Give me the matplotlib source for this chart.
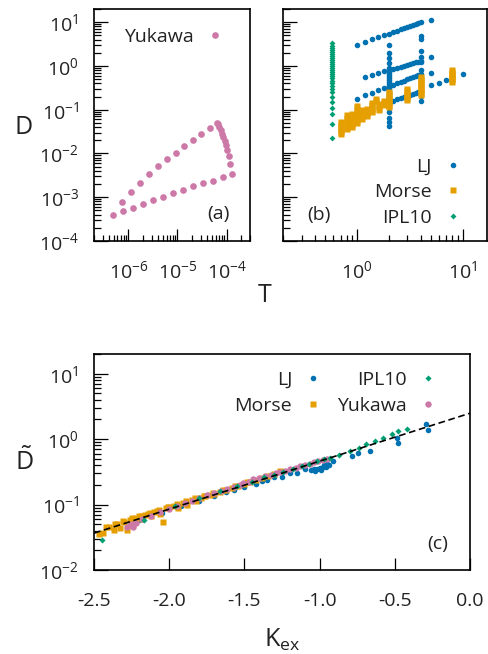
import numpy as np
import matplotlib
matplotlib.use('Agg')
import matplotlib.pyplot as plt
from matplotlib.ticker import LogLocator, NullFormatter, FixedLocator

# ---- panel (a): Yukawa, D vs T ----
yuk_T = [4.82e-7, 7.69e-7, 1.23e-6, 1.96e-6, 3.13e-6, 5.0e-6, 7.98e-6, 1.28e-5, 2.04e-5, 3.25e-5, 5.19e-5, 8.3e-5, 1.32e-4,
         7.35e-7, 1.12e-6, 1.73e-6, 2.67e-6, 4.07e-6, 6.12e-6, 9.18e-6, 1.37e-5, 2.04e-5, 3.0e-5, 4.51e-5, 6.35e-5,
         6.75e-5, 7.14e-5, 7.55e-5, 8.04e-5, 8.53e-5, 9.1e-5, 9.68e-5, 1.03e-4, 1.10e-4, 1.18e-4]
yuk_D = [3.92e-4, 4.84e-4, 5.77e-4, 7.13e-4, 8.53e-4, 1.02e-3, 1.24e-3, 1.47e-3, 1.79e-3, 2.10e-3, 2.41e-3, 2.88e-3, 3.38e-3,
         7.8e-4, 1.32e-3, 2.17e-3, 3.38e-3, 5.05e-3, 7.31e-3, 1.04e-2, 1.46e-2, 2.0e-2, 2.75e-2, 3.78e-2, 5.1e-2,
         4.83e-2, 4.12e-2, 3.52e-2, 2.85e-2, 2.37e-2, 1.92e-2, 1.55e-2, 1.20e-2, 8.57e-3, 5.61e-3]

# ---- panel (b): LJ, Morse, IPL10 ----
lj_T_iso1 = [1.0, 1.2, 1.4, 1.6, 1.8, 2.0, 2.2, 2.4, 2.6, 2.8, 3.0, 3.2, 3.4, 3.6, 3.8, 4.0, 5.0]
lj_D_iso1 = [3.0, 3.52, 4.03, 4.52, 5.01, 5.50, 5.97, 6.44, 6.90, 7.36, 7.82, 8.26, 8.71, 9.16, 9.6, 10.0, 11.5]
lj_T_iso2 = [1.2, 1.4, 1.6, 1.8, 2.0, 2.2, 2.4, 2.6, 2.8, 3.0, 3.2, 3.4, 3.6, 3.8, 4.0, 5.0]
lj_D_iso2 = [0.568, 0.632, 0.693, 0.752, 0.809, 0.865, 0.918, 0.970, 1.02, 1.07, 1.12, 1.17, 1.22, 1.26, 1.31, 1.57]
lj_T_iso3 = [1.0, 1.2, 1.4, 1.6, 1.8, 2.0, 2.2, 2.4, 2.6, 2.8, 3.0, 3.2, 3.4, 3.6, 3.8, 4.0, 5.0]
lj_D_iso3 = [0.179, 0.212, 0.244, 0.277, 0.308, 0.340, 0.372, 0.403, 0.434, 0.465, 0.495, 0.526, 0.556, 0.586, 0.618, 0.647, 0.69]
lj_T_iso4 = [2.0, 2.2, 2.4, 2.6, 2.8, 3.0, 3.2, 3.4, 3.6, 3.8, 4.0, 5.0, 6.0, 7.0, 10.0]
lj_D_iso4 = [0.147, 0.160, 0.172, 0.185, 0.197, 0.209, 0.220, 0.232, 0.244, 0.256, 0.267, 0.362, 0.418, 0.479, 0.647]
lj_D_T2 = [3.0, 1.97, 1.49, 1.16, 0.92, 0.80, 0.72, 0.65, 0.58, 0.52, 0.47, 0.42, 0.38, 0.34, 0.31, 0.28, 0.25,
           0.225, 0.202, 0.182, 0.164, 0.147, 0.132, 0.109, 0.088, 0.0655, 0.0519, 0.042]
lj_D_T4 = [4.76, 4.13, 2.25, 1.57, 1.20, 0.80, 0.45, 0.21, 0.158]

morse_T = [0.7] * 7 + [0.8] * 7 + [0.9] * 7 + [1.0] * 8 + [1.12] * 6 + [1.25] * 5 + [1.39] * 6 + [1.5] * 2 \
    + [1.62] * 4 + [1.81] * 3 + [2.0] * 8 + [3.0] * 7 + [4.0] * 10 + [8.0] * 8
morse_D = [0.052, 0.047, 0.043, 0.039, 0.035, 0.031, 0.028,
           0.075, 0.066, 0.058, 0.052, 0.046, 0.041, 0.037,
           0.080, 0.071, 0.063, 0.056, 0.050, 0.044, 0.040,
           0.12, 0.105, 0.092, 0.081, 0.071, 0.063, 0.055, 0.049,
           0.10, 0.091, 0.082, 0.074, 0.067, 0.061,
           0.105, 0.095, 0.087, 0.079, 0.072,
           0.145, 0.13, 0.117, 0.105, 0.095, 0.087,
           0.172, 0.155,
           0.135, 0.122, 0.11, 0.10,
           0.155, 0.14, 0.127,
           0.26, 0.23, 0.20, 0.18, 0.16, 0.145, 0.13, 0.115,
           0.29, 0.265, 0.24, 0.22, 0.20, 0.185, 0.17,
           0.55, 0.50, 0.45, 0.41, 0.37, 0.335, 0.30, 0.27, 0.245, 0.22,
           0.80, 0.73, 0.67, 0.61, 0.56, 0.51, 0.47, 0.43]

ipl_T = 0.58
ipl_D = [3.29, 2.90, 2.61, 2.34, 2.11, 1.90, 1.71, 1.53, 1.38, 1.24, 1.12, 1.00, 0.90, 0.81, 0.73, 0.65, 0.58,
         0.52, 0.45, 0.40, 0.34, 0.29, 0.25, 0.195, 0.153, 0.111, 0.078, 0.048, 0.0227]

# ---- panel (c): reduced D vs K_ex ----
c_lj_K = [-2.20, -2.05, -1.92, -1.80, -1.70, -1.62, -1.57, -1.50, -1.425, -1.38, -1.348, -1.30, -1.248, -1.20,
          -1.148, -1.10, -1.06, -1.04, -1.03, -1.015, -1.00, -0.99, -0.98, -0.971, -0.96, -0.95, -0.94, -0.909,
          -0.787, -0.743, -0.665, -0.487, -0.477, -0.293, -0.277]
c_lj_D = [0.058, 0.075, 0.094, 0.115, 0.135, 0.155, 0.170, 0.188, 0.209, 0.228, 0.234, 0.262, 0.264, 0.30,
          0.303, 0.35, 0.333, 0.345, 0.325, 0.354, 0.36, 0.34, 0.375, 0.40, 0.38, 0.42, 0.40, 0.457,
          0.545, 0.62, 0.67, 1.05, 0.87, 1.71, 1.40]
c_morse_K = [-2.47, -2.44, -2.40, -2.37, -2.35, -2.33, -2.30, -2.28, -2.26, -2.24, -2.22, -2.20, -2.18, -2.16,
             -2.14, -2.12, -2.10, -2.08, -2.06, -2.04, -2.02, -2.00, -1.97, -1.94, -1.91, -1.88, -1.85, -1.82,
             -1.79, -1.76, -1.73, -1.70, -1.66, -1.62, -1.58, -1.54, -1.50, -1.46, -1.42, -1.38, -1.34, -1.30, -1.26,
             -2.42, -2.36, -2.31, -2.25, -2.19, -2.13, -2.07, -2.01, -1.95, -1.89, -1.83, -1.77, -1.71, -1.64,
             -1.56, -1.48]
c_morse_D = [0.036, 0.037, 0.046, 0.041, 0.050, 0.044, 0.055, 0.041, 0.058, 0.050, 0.062, 0.066, 0.060, 0.069,
             0.072, 0.066, 0.077, 0.080, 0.073, 0.055, 0.088, 0.091, 0.095, 0.090, 0.105, 0.100, 0.116, 0.112,
             0.128, 0.134, 0.140, 0.145, 0.158, 0.170, 0.180, 0.195, 0.21, 0.225, 0.24, 0.255, 0.27, 0.29, 0.325,
             0.046, 0.051, 0.056, 0.062, 0.068, 0.075, 0.083, 0.092, 0.101, 0.112, 0.124, 0.137, 0.152, 0.170,
             0.193, 0.218]
c_yuk_K = [-2.28, -2.26, -2.25, -2.24, -2.22, -2.18, -2.12, -2.06, -2.00, -1.95, -1.895, -1.85, -1.80, -1.75,
           -1.70, -1.655, -1.618, -1.57, -1.53, -1.507, -1.47, -1.44, -1.40, -1.363, -1.32, -1.29, -1.263, -1.23,
           -1.197, -1.16, -1.13, -1.10, -1.064, -1.035, -1.009, -0.98, -0.953]
c_yuk_D = [0.046, 0.048, 0.050, 0.046, 0.052, 0.060, 0.068, 0.077, 0.086, 0.095, 0.107, 0.115, 0.124, 0.139,
           0.150, 0.162, 0.175, 0.185, 0.198, 0.213, 0.225, 0.249, 0.255, 0.273, 0.285, 0.30, 0.314, 0.33,
           0.354, 0.365, 0.384, 0.40, 0.42, 0.44, 0.47, 0.48, 0.50]
c_ipl_K = [-2.45, -2.17, -1.96, -1.80, -1.66, -1.55, -1.45, -1.37, -1.30, -1.24, -1.18, -1.12, -1.07, -1.02,
           -0.97, -0.93, -0.87, -0.80, -0.74, -0.69, -0.63, -0.58, -0.52, -0.48, -0.42]
c_ipl_D = [0.029, 0.058, 0.095, 0.125, 0.16, 0.19, 0.225, 0.26, 0.285, 0.32, 0.35, 0.385, 0.42, 0.46,
           0.50, 0.52, 0.58, 0.66, 0.74, 0.83, 0.93, 1.05, 1.18, 1.32, 1.44]
fit_K = [-2.5, 0.0]
fit_D = [0.0366, 2.49]

c_blue = '#0072B2'
c_orange = '#E69F00'
c_green = '#009E73'
c_pink = '#CC79A7'
txt = '#222222'

plt.rcParams['font.family'] = ['Open Sans', 'DejaVu Sans']
plt.rcParams['mathtext.fontset'] = 'custom'
plt.rcParams['mathtext.rm'] = 'Open Sans'
plt.rcParams['mathtext.it'] = 'Open Sans:italic'
plt.rcParams['axes.unicode_minus'] = False
plt.rcParams['text.color'] = txt
plt.rcParams['xtick.labelcolor'] = txt
plt.rcParams['ytick.labelcolor'] = txt

fig = plt.figure(figsize=(4.88, 6.54), dpi=100)
ax_a = fig.add_axes([0.1926, 0.6315, 0.3197, 0.3547])
ax_b = fig.add_axes([0.5799, 0.6315, 0.418, 0.3547])
ax_c = fig.add_axes([0.1926, 0.1284, 0.7705, 0.3303])

fs = 14


def style(ax, xpad):
    ax.tick_params(which='both', direction='in', top=False, right=False, labelsize=fs, width=0.9)
    ax.tick_params(axis='x', which='major', length=8.6, pad=xpad)
    ax.tick_params(axis='x', which='minor', length=4.3)
    ax.tick_params(axis='y', which='major', length=10, pad=11)
    ax.tick_params(axis='y', which='minor', length=5)
    for s in ax.spines.values():
        s.set_linewidth(1.2)


def logy(ax, lo, hi):
    ax.set_yscale('log')
    ax.set_ylim(lo, hi)
    ax.yaxis.set_major_locator(LogLocator(base=10, numticks=20))
    ax.yaxis.set_minor_locator(LogLocator(base=10, subs=np.arange(2, 10), numticks=100))
    ax.yaxis.set_minor_formatter(NullFormatter())


def logx(ax, lo, hi):
    ax.set_xscale('log')
    ax.set_xlim(lo, hi)
    ax.xaxis.set_major_locator(LogLocator(base=10, numticks=20))
    ax.xaxis.set_minor_locator(LogLocator(base=10, subs=np.arange(2, 10), numticks=100))
    ax.xaxis.set_minor_formatter(NullFormatter())


leg_kw = dict(frameon=False, markerfirst=False, fontsize=fs, handlelength=1.0, handletextpad=0.6,
              borderpad=0, borderaxespad=0, labelspacing=0.4)

# (a)
ax_a.plot(yuk_T, yuk_D, 'o', ms=4.8, color=c_pink, mec='none', label='Yukawa')
logx(ax_a, 2e-7, 3e-4)
logy(ax_a, 1e-4, 20)
style(ax_a, 14)
ax_a.legend(loc='upper right', bbox_to_anchor=(0.836, 0.918), **leg_kw)
ax_a.text(0.795, 0.116, '(a)', transform=ax_a.transAxes, ha='center', va='center', fontsize=fs)

# (b)
lj_T_all = lj_T_iso1 + lj_T_iso2 + lj_T_iso3 + lj_T_iso4 + [2.0] * len(lj_D_T2) + [4.0] * len(lj_D_T4)
lj_D_all = lj_D_iso1 + lj_D_iso2 + lj_D_iso3 + lj_D_iso4 + lj_D_T2 + lj_D_T4
ax_b.plot(lj_T_all, lj_D_all, 'o', ms=4.0, color=c_blue, mec='none', label='LJ')
ax_b.plot(morse_T, morse_D, 's', ms=4.2, color=c_orange, mec='none', label='Morse')
ax_b.plot([ipl_T] * len(ipl_D), ipl_D, 'D', ms=3.0, color=c_green, mec='none', label='IPL10')
logx(ax_b, 0.2, 17)
logy(ax_b, 1e-4, 20)
style(ax_b, 14)
ax_b.tick_params(labelleft=False)
ax_b.legend(loc='lower right', bbox_to_anchor=(0.88, 0.06), **leg_kw)
ax_b.text(0.176, 0.112, '(b)', transform=ax_b.transAxes, ha='center', va='center', fontsize=fs)

# (c)
ax_c.plot(c_lj_K, c_lj_D, 'o', ms=4.0, color=c_blue, mec='none', label='LJ')
ax_c.plot(c_morse_K, c_morse_D, 's', ms=4.3, color=c_orange, mec='none', label='Morse')
ax_c.plot(c_yuk_K, c_yuk_D, 'o', ms=4.6, color=c_pink, mec='none', label='Yukawa')
ax_c.plot(c_ipl_K, c_ipl_D, 'D', ms=3.1, color=c_green, mec='none', label='IPL10')
ax_c.plot(fit_K, fit_D, color='black', lw=1.2, dashes=(4, 2.2))
ax_c.set_xlim(-2.5, 0.0)
ax_c.xaxis.set_major_locator(FixedLocator([-2.5, -2.0, -1.5, -1.0, -0.5, 0.0]))
ax_c.xaxis.set_major_formatter(matplotlib.ticker.FormatStrFormatter('%.1f'))
logy(ax_c, 1e-2, 20)
style(ax_c, 16)
h, l = ax_c.get_legend_handles_labels()
order = [0, 1, 3, 2]
ax_c.legend([h[i] for i in order], [l[i] for i in order], ncol=2, columnspacing=0.7,
            loc='upper right', bbox_to_anchor=(0.914, 0.921), **leg_kw)
ax_c.text(0.915, 0.12, '(c)', transform=ax_c.transAxes, ha='center', va='center', fontsize=fs)

# axis labels
fig.text(24 / 488, 1 - 127 / 654, 'D', ha='center', va='center', fontsize=18)
fig.text(265 / 488, 1 - 296 / 654, 'T', ha='center', va='center', fontsize=18)
fig.text(24 / 488, 1 - 462 / 654, r'$\tilde{\mathdefault{D}}$', ha='center', va='center', fontsize=18)
fig.text(282 / 488, 1 - 640 / 654, r'K$_\mathdefault{ex}$', ha='center', va='center', fontsize=18)

fig.savefig('out.png', dpi=100)
